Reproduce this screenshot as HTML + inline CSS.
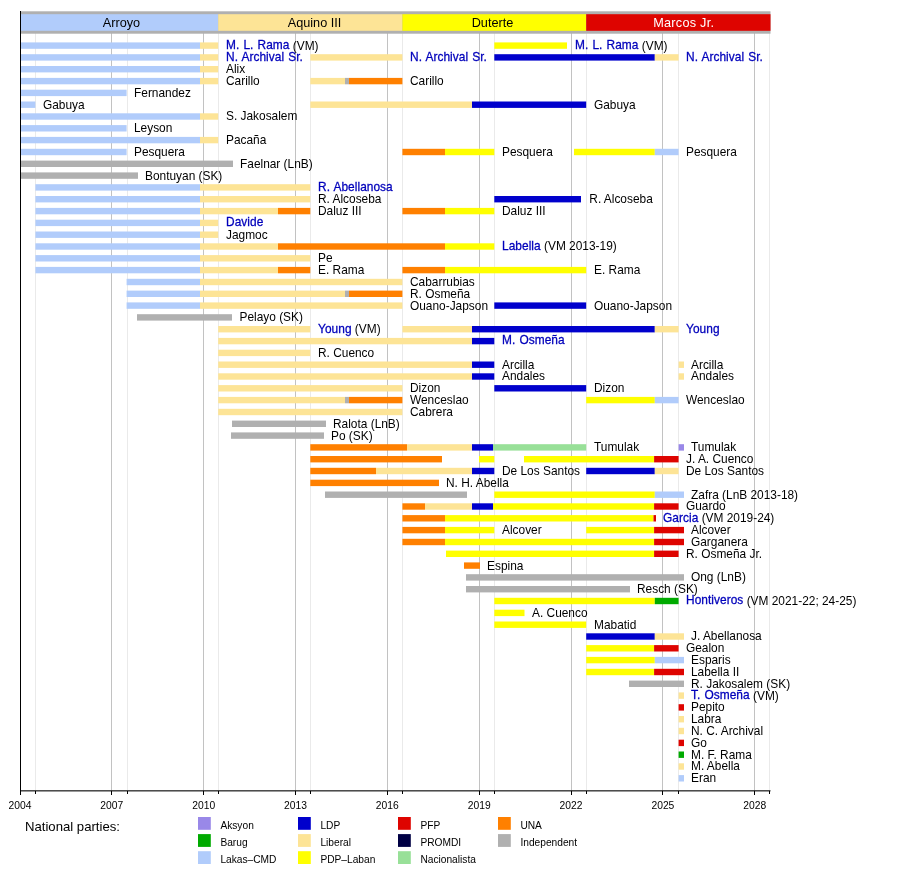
<!DOCTYPE html>
<html><head><meta charset="utf-8"><title>Cebu City Council timeline</title>
<style>
html,body{margin:0;padding:0;background:#fff}
body{width:900px;height:880px;overflow:hidden}
svg{display:block}
svg text{font-family:"Liberation Sans",Arial,Helvetica,sans-serif;fill:#000}
.l{font-size:11.9px}
.k{fill:#0000BB;stroke:#0000BB;stroke-width:.27px;letter-spacing:.05px;word-spacing:.75px}
.h{font-size:12.7px;text-anchor:middle}
.y{font-size:10.3px;text-anchor:middle}
.g{font-size:10.2px}
</style></head>
<body>
<svg width="900" height="880" viewBox="0 0 900 880">
<rect width="900" height="880" fill="#fff"/>
<g shape-rendering="crispEdges">
<rect x="20" y="33" width="1" height="758" fill="#C2C2C2"/>
<rect x="35" y="33" width="1" height="758" fill="#EAEAEA"/>
<rect x="111" y="33" width="1" height="758" fill="#C2C2C2"/>
<rect x="127" y="33" width="1" height="758" fill="#EAEAEA"/>
<rect x="203" y="33" width="1" height="758" fill="#C2C2C2"/>
<rect x="218" y="33" width="1" height="758" fill="#EAEAEA"/>
<rect x="295" y="33" width="1" height="758" fill="#C2C2C2"/>
<rect x="310" y="33" width="1" height="758" fill="#EAEAEA"/>
<rect x="387" y="33" width="1" height="758" fill="#C2C2C2"/>
<rect x="402" y="33" width="1" height="758" fill="#EAEAEA"/>
<rect x="479" y="33" width="1" height="758" fill="#C2C2C2"/>
<rect x="494" y="33" width="1" height="758" fill="#EAEAEA"/>
<rect x="571" y="33" width="1" height="758" fill="#C2C2C2"/>
<rect x="586" y="33" width="1" height="758" fill="#EAEAEA"/>
<rect x="662" y="33" width="1" height="758" fill="#C2C2C2"/>
<rect x="678" y="33" width="1" height="758" fill="#EAEAEA"/>
<rect x="754" y="33" width="1" height="758" fill="#C2C2C2"/>
<rect x="769" y="33" width="1" height="758" fill="#EAEAEA"/>
</g>
<rect x="20" y="11.3" width="750.5" height="22.4" fill="#B0B0B0"/>
<rect x="20.0" y="14.2" width="198.2" height="16.6" fill="#B1CCFB"/>
<rect x="218.2" y="14.2" width="184.2" height="16.6" fill="#FDE496"/>
<rect x="402.4" y="14.2" width="183.8" height="16.6" fill="#FFFF00"/>
<rect x="586.2" y="14.2" width="184.3" height="16.6" fill="#DE0400"/>
<text class="h" x="121.5" y="27" style="fill:#000">Arroyo</text>
<text class="h" x="314.5" y="27" style="fill:#000">Aquino III</text>
<text class="h" x="492.5" y="27" style="fill:#000">Duterte</text>
<text class="h" x="683.7" y="27" style="fill:#fff;letter-spacing:.25px">Marcos Jr.</text>
<g>
<rect x="20.0" y="42.4" width="180.0" height="6.4" fill="#B1CCFB"/>
<rect x="200.0" y="42.4" width="18.2" height="6.4" fill="#FDE496"/>
<rect x="494.3" y="42.4" width="72.7" height="6.4" fill="#FFFF00"/>
<rect x="20.0" y="54.2" width="180.0" height="6.4" fill="#B1CCFB"/>
<rect x="200.0" y="54.2" width="18.2" height="6.4" fill="#FDE496"/>
<rect x="310.3" y="54.2" width="92.1" height="6.4" fill="#FDE496"/>
<rect x="494.3" y="54.2" width="160.5" height="6.4" fill="#0000CC"/>
<rect x="654.8" y="54.2" width="23.8" height="6.4" fill="#FDE496"/>
<rect x="20.0" y="66.0" width="180.0" height="6.4" fill="#B1CCFB"/>
<rect x="200.0" y="66.0" width="18.2" height="6.4" fill="#FDE496"/>
<rect x="20.0" y="77.9" width="180.0" height="6.4" fill="#B1CCFB"/>
<rect x="200.0" y="77.9" width="18.2" height="6.4" fill="#FDE496"/>
<rect x="310.3" y="77.9" width="34.7" height="6.4" fill="#FDE496"/>
<rect x="345.0" y="77.9" width="4.0" height="6.4" fill="#B0B0B0"/>
<rect x="349.0" y="77.9" width="53.4" height="6.4" fill="#FF8000"/>
<rect x="20.0" y="89.7" width="106.6" height="6.4" fill="#B1CCFB"/>
<rect x="20.0" y="101.5" width="15.4" height="6.4" fill="#B1CCFB"/>
<rect x="310.3" y="101.5" width="161.7" height="6.4" fill="#FDE496"/>
<rect x="472.0" y="101.5" width="114.2" height="6.4" fill="#0000CC"/>
<rect x="20.0" y="113.3" width="180.0" height="6.4" fill="#B1CCFB"/>
<rect x="200.0" y="113.3" width="18.2" height="6.4" fill="#FDE496"/>
<rect x="20.0" y="125.1" width="106.6" height="6.4" fill="#B1CCFB"/>
<rect x="20.0" y="136.9" width="180.0" height="6.4" fill="#B1CCFB"/>
<rect x="200.0" y="136.9" width="18.2" height="6.4" fill="#FDE496"/>
<rect x="20.0" y="148.8" width="106.6" height="6.4" fill="#B1CCFB"/>
<rect x="402.4" y="148.8" width="42.6" height="6.4" fill="#FF8000"/>
<rect x="445.0" y="148.8" width="49.3" height="6.4" fill="#FFFF00"/>
<rect x="574.0" y="148.8" width="80.8" height="6.4" fill="#FFFF00"/>
<rect x="654.8" y="148.8" width="23.8" height="6.4" fill="#B1CCFB"/>
<rect x="20.0" y="160.6" width="213.0" height="6.4" fill="#B0B0B0"/>
<rect x="20.0" y="172.4" width="118.0" height="6.4" fill="#B0B0B0"/>
<rect x="35.4" y="184.2" width="164.6" height="6.4" fill="#B1CCFB"/>
<rect x="200.0" y="184.2" width="110.3" height="6.4" fill="#FDE496"/>
<rect x="35.4" y="196.0" width="164.6" height="6.4" fill="#B1CCFB"/>
<rect x="200.0" y="196.0" width="110.3" height="6.4" fill="#FDE496"/>
<rect x="494.3" y="196.0" width="86.7" height="6.4" fill="#0000CC"/>
<rect x="35.4" y="207.9" width="164.6" height="6.4" fill="#B1CCFB"/>
<rect x="200.0" y="207.9" width="78.0" height="6.4" fill="#FDE496"/>
<rect x="278.0" y="207.9" width="32.3" height="6.4" fill="#FF8000"/>
<rect x="402.4" y="207.9" width="42.6" height="6.4" fill="#FF8000"/>
<rect x="445.0" y="207.9" width="49.3" height="6.4" fill="#FFFF00"/>
<rect x="35.4" y="219.7" width="164.6" height="6.4" fill="#B1CCFB"/>
<rect x="200.0" y="219.7" width="18.2" height="6.4" fill="#FDE496"/>
<rect x="35.4" y="231.5" width="164.6" height="6.4" fill="#B1CCFB"/>
<rect x="200.0" y="231.5" width="18.2" height="6.4" fill="#FDE496"/>
<rect x="35.4" y="243.3" width="164.6" height="6.4" fill="#B1CCFB"/>
<rect x="200.0" y="243.3" width="78.0" height="6.4" fill="#FDE496"/>
<rect x="278.0" y="243.3" width="167.0" height="6.4" fill="#FF8000"/>
<rect x="445.0" y="243.3" width="49.3" height="6.4" fill="#FFFF00"/>
<rect x="35.4" y="255.1" width="164.6" height="6.4" fill="#B1CCFB"/>
<rect x="200.0" y="255.1" width="110.3" height="6.4" fill="#FDE496"/>
<rect x="35.4" y="266.9" width="164.6" height="6.4" fill="#B1CCFB"/>
<rect x="200.0" y="266.9" width="78.0" height="6.4" fill="#FDE496"/>
<rect x="278.0" y="266.9" width="32.3" height="6.4" fill="#FF8000"/>
<rect x="402.4" y="266.9" width="42.6" height="6.4" fill="#FF8000"/>
<rect x="445.0" y="266.9" width="141.2" height="6.4" fill="#FFFF00"/>
<rect x="126.6" y="278.8" width="73.4" height="6.4" fill="#B1CCFB"/>
<rect x="200.0" y="278.8" width="202.4" height="6.4" fill="#FDE496"/>
<rect x="126.6" y="290.6" width="73.4" height="6.4" fill="#B1CCFB"/>
<rect x="200.0" y="290.6" width="145.0" height="6.4" fill="#FDE496"/>
<rect x="345.0" y="290.6" width="4.0" height="6.4" fill="#B0B0B0"/>
<rect x="349.0" y="290.6" width="53.4" height="6.4" fill="#FF8000"/>
<rect x="126.6" y="302.4" width="73.4" height="6.4" fill="#B1CCFB"/>
<rect x="200.0" y="302.4" width="202.4" height="6.4" fill="#FDE496"/>
<rect x="494.3" y="302.4" width="91.9" height="6.4" fill="#0000CC"/>
<rect x="137.0" y="314.2" width="95.0" height="6.4" fill="#B0B0B0"/>
<rect x="218.2" y="326.0" width="92.1" height="6.4" fill="#FDE496"/>
<rect x="402.4" y="326.0" width="69.6" height="6.4" fill="#FDE496"/>
<rect x="472.0" y="326.0" width="182.8" height="6.4" fill="#0000CC"/>
<rect x="654.8" y="326.0" width="23.8" height="6.4" fill="#FDE496"/>
<rect x="218.2" y="337.9" width="253.8" height="6.4" fill="#FDE496"/>
<rect x="472.0" y="337.9" width="22.3" height="6.4" fill="#0000CC"/>
<rect x="218.2" y="349.7" width="92.1" height="6.4" fill="#FDE496"/>
<rect x="218.2" y="361.5" width="253.8" height="6.4" fill="#FDE496"/>
<rect x="472.0" y="361.5" width="22.3" height="6.4" fill="#0000CC"/>
<rect x="678.6" y="361.5" width="5.4" height="6.4" fill="#FDE496"/>
<rect x="218.2" y="373.3" width="253.8" height="6.4" fill="#FDE496"/>
<rect x="472.0" y="373.3" width="22.3" height="6.4" fill="#0000CC"/>
<rect x="678.6" y="373.3" width="5.4" height="6.4" fill="#FDE496"/>
<rect x="218.2" y="385.1" width="184.2" height="6.4" fill="#FDE496"/>
<rect x="494.3" y="385.1" width="91.9" height="6.4" fill="#0000CC"/>
<rect x="218.2" y="396.9" width="126.8" height="6.4" fill="#FDE496"/>
<rect x="345.0" y="396.9" width="4.0" height="6.4" fill="#B0B0B0"/>
<rect x="349.0" y="396.9" width="53.4" height="6.4" fill="#FF8000"/>
<rect x="586.2" y="396.9" width="68.6" height="6.4" fill="#FFFF00"/>
<rect x="654.8" y="396.9" width="23.8" height="6.4" fill="#B1CCFB"/>
<rect x="218.2" y="408.8" width="184.2" height="6.4" fill="#FDE496"/>
<rect x="232.0" y="420.6" width="94.0" height="6.4" fill="#B0B0B0"/>
<rect x="231.0" y="432.4" width="93.0" height="6.4" fill="#B0B0B0"/>
<rect x="310.3" y="444.2" width="96.7" height="6.4" fill="#FF8000"/>
<rect x="407.0" y="444.2" width="65.0" height="6.4" fill="#FDE496"/>
<rect x="472.0" y="444.2" width="21.0" height="6.4" fill="#0000CC"/>
<rect x="493.0" y="444.2" width="93.2" height="6.4" fill="#98E098"/>
<rect x="678.6" y="444.2" width="5.4" height="6.4" fill="#9988E8"/>
<rect x="310.3" y="456.0" width="131.7" height="6.4" fill="#FF8000"/>
<rect x="479.0" y="456.0" width="15.3" height="6.4" fill="#FFFF00"/>
<rect x="524.0" y="456.0" width="130.1" height="6.4" fill="#FFFF00"/>
<rect x="654.1" y="456.0" width="24.5" height="6.4" fill="#DE0400"/>
<rect x="310.3" y="467.8" width="65.7" height="6.4" fill="#FF8000"/>
<rect x="376.0" y="467.8" width="96.0" height="6.4" fill="#FDE496"/>
<rect x="472.0" y="467.8" width="22.3" height="6.4" fill="#0000CC"/>
<rect x="586.2" y="467.8" width="68.6" height="6.4" fill="#0000CC"/>
<rect x="654.8" y="467.8" width="23.8" height="6.4" fill="#FDE496"/>
<rect x="310.3" y="479.7" width="128.7" height="6.4" fill="#FF8000"/>
<rect x="325.0" y="491.5" width="142.0" height="6.4" fill="#B0B0B0"/>
<rect x="494.3" y="491.5" width="160.5" height="6.4" fill="#FFFF00"/>
<rect x="654.8" y="491.5" width="29.2" height="6.4" fill="#B1CCFB"/>
<rect x="402.4" y="503.3" width="22.6" height="6.4" fill="#FF8000"/>
<rect x="425.0" y="503.3" width="47.0" height="6.4" fill="#FDE496"/>
<rect x="472.0" y="503.3" width="21.0" height="6.4" fill="#0000CC"/>
<rect x="493.0" y="503.3" width="161.1" height="6.4" fill="#FFFF00"/>
<rect x="654.1" y="503.3" width="24.5" height="6.4" fill="#DE0400"/>
<rect x="402.4" y="515.1" width="42.6" height="6.4" fill="#FF8000"/>
<rect x="445.0" y="515.1" width="208.5" height="6.4" fill="#FFFF00"/>
<rect x="653.5" y="515.1" width="2.5" height="6.4" fill="#DE0400"/>
<rect x="402.4" y="526.9" width="42.6" height="6.4" fill="#FF8000"/>
<rect x="445.0" y="526.9" width="49.3" height="6.4" fill="#FFFF00"/>
<rect x="586.2" y="526.9" width="67.9" height="6.4" fill="#FFFF00"/>
<rect x="654.1" y="526.9" width="29.9" height="6.4" fill="#DE0400"/>
<rect x="402.4" y="538.8" width="42.6" height="6.4" fill="#FF8000"/>
<rect x="445.0" y="538.8" width="209.1" height="6.4" fill="#FFFF00"/>
<rect x="654.1" y="538.8" width="29.9" height="6.4" fill="#DE0400"/>
<rect x="446.0" y="550.6" width="208.1" height="6.4" fill="#FFFF00"/>
<rect x="654.1" y="550.6" width="24.5" height="6.4" fill="#DE0400"/>
<rect x="464.0" y="562.4" width="16.0" height="6.4" fill="#FF8000"/>
<rect x="466.0" y="574.2" width="218.0" height="6.4" fill="#B0B0B0"/>
<rect x="466.0" y="586.0" width="164.0" height="6.4" fill="#B0B0B0"/>
<rect x="494.3" y="597.8" width="160.5" height="6.4" fill="#FFFF00"/>
<rect x="654.8" y="597.8" width="23.8" height="6.4" fill="#00AA00"/>
<rect x="494.3" y="609.7" width="30.2" height="6.4" fill="#FFFF00"/>
<rect x="494.3" y="621.5" width="91.9" height="6.4" fill="#FFFF00"/>
<rect x="586.2" y="633.3" width="68.6" height="6.4" fill="#0000CC"/>
<rect x="654.8" y="633.3" width="29.2" height="6.4" fill="#FDE496"/>
<rect x="586.2" y="645.1" width="67.9" height="6.4" fill="#FFFF00"/>
<rect x="654.1" y="645.1" width="24.5" height="6.4" fill="#DE0400"/>
<rect x="586.2" y="656.9" width="68.6" height="6.4" fill="#FFFF00"/>
<rect x="654.8" y="656.9" width="29.2" height="6.4" fill="#B1CCFB"/>
<rect x="586.2" y="668.8" width="67.9" height="6.4" fill="#FFFF00"/>
<rect x="654.1" y="668.8" width="29.9" height="6.4" fill="#DE0400"/>
<rect x="629.0" y="680.6" width="55.0" height="6.4" fill="#B0B0B0"/>
<rect x="678.6" y="692.4" width="5.4" height="6.4" fill="#FDE496"/>
<rect x="678.6" y="704.2" width="5.4" height="6.4" fill="#DE0400"/>
<rect x="678.6" y="716.0" width="5.4" height="6.4" fill="#FDE496"/>
<rect x="678.6" y="727.8" width="5.4" height="6.4" fill="#FDE496"/>
<rect x="678.6" y="739.7" width="5.4" height="6.4" fill="#DE0400"/>
<rect x="678.6" y="751.5" width="5.4" height="6.4" fill="#00AA00"/>
<rect x="678.6" y="763.3" width="5.4" height="6.4" fill="#FDE496"/>
<rect x="678.6" y="775.1" width="5.4" height="6.4" fill="#B1CCFB"/>
</g>
<g class="l">
<text x="226.0" y="49.5" xml:space="preserve"><tspan class="k" dy="-0.5">M. L. Rama</tspan><tspan dy="0.5"> (VM)</tspan></text>
<text x="575.0" y="49.5" xml:space="preserve"><tspan class="k" dy="-0.5">M. L. Rama</tspan><tspan dy="0.5"> (VM)</tspan></text>
<text x="226.0" y="61.3" xml:space="preserve"><tspan class="k" dy="-0.5">N. Archival Sr.</tspan></text>
<text x="410.0" y="61.3" xml:space="preserve"><tspan class="k" dy="-0.5">N. Archival Sr.</tspan></text>
<text x="686.0" y="61.3" xml:space="preserve"><tspan class="k" dy="-0.5">N. Archival Sr.</tspan></text>
<text x="226.0" y="73.1" xml:space="preserve">Alix</text>
<text x="226.0" y="85.0" xml:space="preserve">Carillo</text>
<text x="410.0" y="85.0" xml:space="preserve">Carillo</text>
<text x="134.0" y="96.8" xml:space="preserve">Fernandez</text>
<text x="43.0" y="108.6" xml:space="preserve">Gabuya</text>
<text x="594.0" y="108.6" xml:space="preserve">Gabuya</text>
<text x="226.0" y="120.4" xml:space="preserve">S. Jakosalem</text>
<text x="134.0" y="132.2" xml:space="preserve">Leyson</text>
<text x="226.0" y="144.0" xml:space="preserve">Pacaña</text>
<text x="134.0" y="155.9" xml:space="preserve">Pesquera</text>
<text x="502.0" y="155.9" xml:space="preserve">Pesquera</text>
<text x="686.0" y="155.9" xml:space="preserve">Pesquera</text>
<text x="240.0" y="167.7" xml:space="preserve">Faelnar (LnB)</text>
<text x="145.0" y="179.5" xml:space="preserve">Bontuyan (SK)</text>
<text x="318.0" y="191.3" xml:space="preserve"><tspan class="k" dy="-0.5">R. Abellanosa</tspan></text>
<text x="318.0" y="203.1" xml:space="preserve">R. Alcoseba</text>
<text x="589.3" y="203.1" xml:space="preserve">R. Alcoseba</text>
<text x="318.0" y="215.0" xml:space="preserve">Daluz III</text>
<text x="502.0" y="215.0" xml:space="preserve">Daluz III</text>
<text x="226.0" y="226.8" xml:space="preserve"><tspan class="k" dy="-0.5">Davide</tspan></text>
<text x="226.0" y="238.6" xml:space="preserve">Jagmoc</text>
<text x="502.0" y="250.4" xml:space="preserve"><tspan class="k" dy="-0.5">Labella</tspan><tspan dy="0.5"> (VM 2013-19)</tspan></text>
<text x="318.0" y="262.2" xml:space="preserve">Pe</text>
<text x="318.0" y="274.0" xml:space="preserve">E. Rama</text>
<text x="594.0" y="274.0" xml:space="preserve">E. Rama</text>
<text x="410.0" y="285.9" xml:space="preserve">Cabarrubias</text>
<text x="410.0" y="297.7" xml:space="preserve">R. Osmeña</text>
<text x="410.0" y="309.5" xml:space="preserve">Ouano-Japson</text>
<text x="594.0" y="309.5" xml:space="preserve">Ouano-Japson</text>
<text x="239.5" y="321.3" xml:space="preserve">Pelayo (SK)</text>
<text x="318.0" y="333.1" xml:space="preserve"><tspan class="k" dy="-0.5">Young</tspan><tspan dy="0.5"> (VM)</tspan></text>
<text x="686.0" y="333.1" xml:space="preserve"><tspan class="k" dy="-0.5">Young</tspan></text>
<text x="502.0" y="344.9" xml:space="preserve"><tspan class="k" dy="-0.5">M. Osmeña</tspan></text>
<text x="318.0" y="356.8" xml:space="preserve">R. Cuenco</text>
<text x="502.0" y="368.6" xml:space="preserve">Arcilla</text>
<text x="691.0" y="368.6" xml:space="preserve">Arcilla</text>
<text x="502.0" y="380.4" xml:space="preserve">Andales</text>
<text x="691.0" y="380.4" xml:space="preserve">Andales</text>
<text x="410.0" y="392.2" xml:space="preserve">Dizon</text>
<text x="594.0" y="392.2" xml:space="preserve">Dizon</text>
<text x="410.0" y="404.0" xml:space="preserve">Wenceslao</text>
<text x="686.0" y="404.0" xml:space="preserve">Wenceslao</text>
<text x="410.0" y="415.9" xml:space="preserve">Cabrera</text>
<text x="333.0" y="427.7" xml:space="preserve">Ralota (LnB)</text>
<text x="331.0" y="439.5" xml:space="preserve">Po (SK)</text>
<text x="594.0" y="451.3" xml:space="preserve">Tumulak</text>
<text x="691.0" y="451.3" xml:space="preserve">Tumulak</text>
<text x="686.0" y="463.1" xml:space="preserve">J. A. Cuenco</text>
<text x="502.0" y="474.9" xml:space="preserve">De Los Santos</text>
<text x="686.0" y="474.9" xml:space="preserve">De Los Santos</text>
<text x="446.0" y="486.8" xml:space="preserve">N. H. Abella</text>
<text x="691.0" y="498.6" xml:space="preserve">Zafra (LnB 2013-18)</text>
<text x="686.0" y="510.4" xml:space="preserve">Guardo</text>
<text x="663.0" y="522.2" xml:space="preserve"><tspan class="k" dy="-0.5">Garcia</tspan><tspan dy="0.5"> (VM 2019-24)</tspan></text>
<text x="502.0" y="534.0" xml:space="preserve">Alcover</text>
<text x="691.0" y="534.0" xml:space="preserve">Alcover</text>
<text x="691.0" y="545.9" xml:space="preserve">Garganera</text>
<text x="686.0" y="557.7" xml:space="preserve">R. Osmeña Jr.</text>
<text x="487.0" y="569.5" xml:space="preserve">Espina</text>
<text x="691.0" y="581.3" xml:space="preserve">Ong (LnB)</text>
<text x="637.0" y="593.1" xml:space="preserve">Resch (SK)</text>
<text x="686.0" y="604.9" xml:space="preserve"><tspan class="k" dy="-0.5">Hontiveros</tspan><tspan dy="0.5"> (VM 2021-22; 24-25)</tspan></text>
<text x="532.0" y="616.8" xml:space="preserve">A. Cuenco</text>
<text x="594.0" y="628.6" xml:space="preserve">Mabatid</text>
<text x="691.0" y="640.4" xml:space="preserve">J. Abellanosa</text>
<text x="686.0" y="652.2" xml:space="preserve">Gealon</text>
<text x="691.0" y="664.0" xml:space="preserve">Esparis</text>
<text x="691.0" y="675.9" xml:space="preserve">Labella II</text>
<text x="691.0" y="687.7" xml:space="preserve">R. Jakosalem (SK)</text>
<text x="691.0" y="699.5" xml:space="preserve"><tspan class="k" dy="-0.5">T. Osmeña</tspan><tspan dy="0.5"> (VM)</tspan></text>
<text x="691.0" y="711.3" xml:space="preserve">Pepito</text>
<text x="691.0" y="723.1" xml:space="preserve">Labra</text>
<text x="691.0" y="734.9" xml:space="preserve">N. C. Archival</text>
<text x="691.0" y="746.8" xml:space="preserve">Go</text>
<text x="691.0" y="758.6" xml:space="preserve">M. F. Rama</text>
<text x="691.0" y="770.4" xml:space="preserve">M. Abella</text>
<text x="691.0" y="782.2" xml:space="preserve">Eran</text>
</g>
<rect x="20" y="790.3" width="750.5" height="1.1" fill="#000"/>
<g shape-rendering="crispEdges">
<rect x="20" y="11" width="1" height="780" fill="#000"/>
<rect x="20" y="791" width="1" height="4.4" fill="#000"/>
<rect x="35" y="791" width="1" height="2.8" fill="#000"/>
<rect x="111" y="791" width="1" height="4.4" fill="#000"/>
<rect x="127" y="791" width="1" height="2.8" fill="#000"/>
<rect x="203" y="791" width="1" height="4.4" fill="#000"/>
<rect x="218" y="791" width="1" height="2.8" fill="#000"/>
<rect x="295" y="791" width="1" height="4.4" fill="#000"/>
<rect x="310" y="791" width="1" height="2.8" fill="#000"/>
<rect x="387" y="791" width="1" height="4.4" fill="#000"/>
<rect x="402" y="791" width="1" height="2.8" fill="#000"/>
<rect x="479" y="791" width="1" height="4.4" fill="#000"/>
<rect x="494" y="791" width="1" height="2.8" fill="#000"/>
<rect x="571" y="791" width="1" height="4.4" fill="#000"/>
<rect x="586" y="791" width="1" height="2.8" fill="#000"/>
<rect x="662" y="791" width="1" height="4.4" fill="#000"/>
<rect x="678" y="791" width="1" height="2.8" fill="#000"/>
<rect x="754" y="791" width="1" height="4.4" fill="#000"/>
<rect x="769" y="791" width="1" height="2.8" fill="#000"/>
</g>
<text class="y" x="20.0" y="808.5">2004</text>
<text class="y" x="111.8" y="808.5">2007</text>
<text class="y" x="203.7" y="808.5">2010</text>
<text class="y" x="295.5" y="808.5">2013</text>
<text class="y" x="387.3" y="808.5">2016</text>
<text class="y" x="479.2" y="808.5">2019</text>
<text class="y" x="571.0" y="808.5">2022</text>
<text class="y" x="662.9" y="808.5">2025</text>
<text class="y" x="754.7" y="808.5">2028</text>
<text x="25" y="831" style="font-size:13.15px">National parties:</text>
<rect x="198.0" y="817.0" width="12.8" height="12.8" fill="#9988E8"/>
<text class="g" x="220.4" y="828.5">Aksyon</text>
<rect x="198.0" y="834.1" width="12.8" height="12.8" fill="#00AA00"/>
<text class="g" x="220.4" y="845.6">Barug</text>
<rect x="198.0" y="851.2" width="12.8" height="12.8" fill="#B1CCFB"/>
<text class="g" x="220.4" y="862.7">Lakas–CMD</text>
<rect x="298.0" y="817.0" width="12.8" height="12.8" fill="#0000CC"/>
<text class="g" x="320.4" y="828.5">LDP</text>
<rect x="298.0" y="834.1" width="12.8" height="12.8" fill="#FDE496"/>
<text class="g" x="320.4" y="845.6">Liberal</text>
<rect x="298.0" y="851.2" width="12.8" height="12.8" fill="#FFFF00"/>
<text class="g" x="320.4" y="862.7">PDP–Laban</text>
<rect x="398.0" y="817.0" width="12.8" height="12.8" fill="#DE0400"/>
<text class="g" x="420.4" y="828.5">PFP</text>
<rect x="398.0" y="834.1" width="12.8" height="12.8" fill="#000044"/>
<text class="g" x="420.4" y="845.6">PROMDI</text>
<rect x="398.0" y="851.2" width="12.8" height="12.8" fill="#98E098"/>
<text class="g" x="420.4" y="862.7">Nacionalista</text>
<rect x="498.0" y="817.0" width="12.8" height="12.8" fill="#FF8000"/>
<text class="g" x="520.4" y="828.5">UNA</text>
<rect x="498.0" y="834.1" width="12.8" height="12.8" fill="#B0B0B0"/>
<text class="g" x="520.4" y="845.6">Independent</text>
</svg>
</body></html>
